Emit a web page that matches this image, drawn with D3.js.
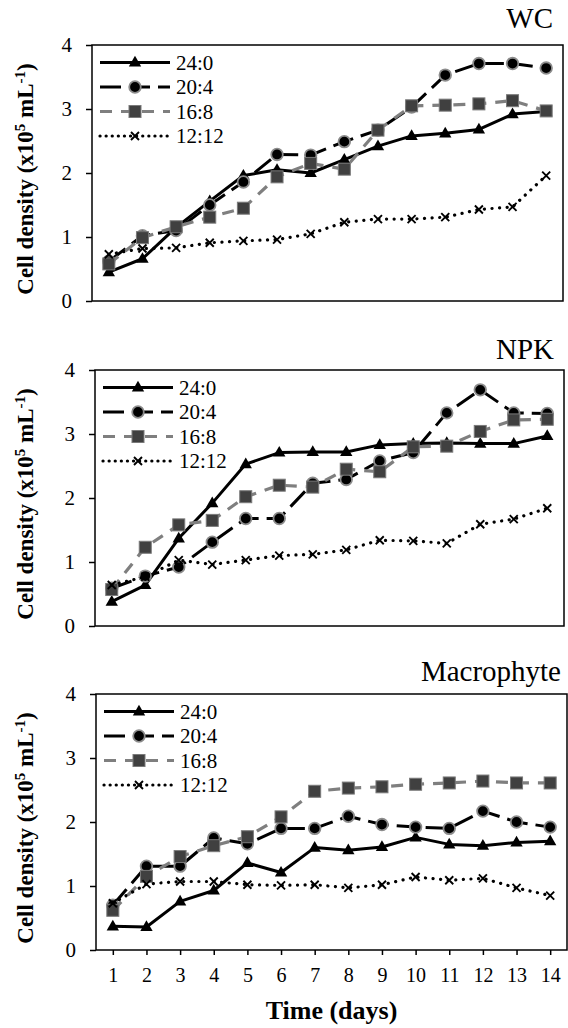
<!DOCTYPE html>
<html>
<head>
<meta charset="utf-8">
<script src="https://cdn.jsdelivr.net/npm/d3@7"></script>
<style>
  html, body { margin: 0; padding: 0; background: #fff; }
  svg { display: block; }
  text { font-family: "Liberation Serif", "Times New Roman", serif; fill: #000; }
</style>
</head>
<body>
<svg id="chart" width="568" height="1028" font-family="Liberation Serif, serif"></svg>
<script>
// ---------- DATA ----------
const days = [1, 2, 3, 4, 5, 6, 7, 8, 9, 10, 11, 12, 13, 14];
const seriesNames = ["24:0", "20:4", "16:8", "12:12"];
const panelTitles = ["WC", "NPK", "Macrophyte"];
const yTicks = [0, 1, 2, 3, 4];
const yTitle = "Cell density (x10";
const xTitle = "Time (days)";

// WC
const wc_24_0  = [0.45, 0.66, 1.15, 1.56, 1.96, 2.05, 2.00, 2.21, 2.42, 2.58, 2.62, 2.68, 2.92, 2.96];
const wc_20_4  = [0.62, 1.02, 1.10, 1.50, 1.86, 2.29, 2.28, 2.49, 2.67, 3.03, 3.53, 3.71, 3.71, 3.64];
const wc_16_8  = [0.58, 0.99, 1.16, 1.31, 1.45, 1.94, 2.15, 2.06, 2.67, 3.05, 3.06, 3.08, 3.13, 2.97];
const wc_12_12 = [0.73, 0.82, 0.83, 0.91, 0.94, 0.96, 1.05, 1.23, 1.28, 1.28, 1.31, 1.43, 1.47, 1.96];

// NPK
const npk_24_0  = [0.38, 0.64, 1.37, 1.92, 2.53, 2.71, 2.72, 2.72, 2.83, 2.85, 2.86, 2.85, 2.85, 2.97];
const npk_20_4  = [0.59, 0.78, 0.92, 1.31, 1.68, 1.68, 2.23, 2.29, 2.58, 2.71, 3.33, 3.69, 3.33, 3.32];
const npk_16_8  = [0.57, 1.23, 1.58, 1.65, 2.02, 2.20, 2.17, 2.45, 2.41, 2.80, 2.81, 3.04, 3.22, 3.23];
const npk_12_12 = [0.64, 0.77, 1.03, 0.96, 1.03, 1.10, 1.12, 1.19, 1.34, 1.33, 1.29, 1.59, 1.67, 1.84];

// Macrophyte
const mac_24_0  = [0.37, 0.36, 0.76, 0.93, 1.36, 1.21, 1.60, 1.56, 1.61, 1.76, 1.65, 1.63, 1.68, 1.70];
const mac_20_4  = [0.70, 1.31, 1.31, 1.75, 1.66, 1.90, 1.90, 2.09, 1.96, 1.92, 1.90, 2.17, 2.00, 1.92];
const mac_16_8  = [0.62, 1.15, 1.46, 1.63, 1.77, 2.08, 2.48, 2.53, 2.55, 2.59, 2.61, 2.64, 2.61, 2.61];
const mac_12_12 = [0.73, 1.03, 1.07, 1.07, 1.02, 1.01, 1.02, 0.97, 1.02, 1.14, 1.09, 1.12, 0.97, 0.85];

const panelData = [
  [wc_24_0, wc_20_4, wc_16_8, wc_12_12],
  [npk_24_0, npk_20_4, npk_16_8, npk_12_12],
  [mac_24_0, mac_20_4, mac_16_8, mac_12_12]
];

// ---------- LAYOUT / STYLE ----------
const panels = [
  { left: 92, top: 45,  right: 563, bottom: 301, titleX: 553, titleY: 28,  xAxis: false },
  { left: 95, top: 370, right: 564, bottom: 626, titleX: 554, titleY: 359, xAxis: false },
  { left: 96, top: 694, right: 567, bottom: 950, titleX: 561, titleY: 681, xAxis: true }
];

const styles = [
  { stroke: "#000", width: 3, dash: null,        cap: "butt",  marker: "triangle" },
  { stroke: "#000", width: 3, dash: "21,8",      cap: "butt",  marker: "circle" },
  { stroke: "#7f7f7f", width: 3.2, dash: "12,9", cap: "butt",  marker: "square" },
  { stroke: "#000", width: 3.2, dash: "0.1,7.5", cap: "round", marker: "x" }
];

const svg = d3.select("#chart");

function drawMarker(g, type, cx, cy) {
  if (type === "triangle") {
    g.append("path")
      .attr("d", d3.symbol(d3.symbolTriangle, 66)())
      .attr("transform", `translate(${cx},${cy + 0.5})`)
      .attr("fill", "#000");
  } else if (type === "circle") {
    g.append("circle").attr("cx", cx).attr("cy", cy).attr("r", 5.8)
      .attr("fill", "#000").attr("stroke", "#8c8c8c").attr("stroke-width", 1.8);
  } else if (type === "square") {
    g.append("rect").attr("x", cx - 6).attr("y", cy - 6).attr("width", 12).attr("height", 12)
      .attr("fill", "#404040").attr("stroke", "#7a7a7a").attr("stroke-width", 1);
  } else if (type === "x") {
    const s = 4;
    g.append("path")
      .attr("d", `M${cx - s},${cy - s}L${cx + s},${cy + s}M${cx - s},${cy + s}L${cx + s},${cy - s}`)
      .attr("stroke", "#000").attr("stroke-width", 1.9).attr("fill", "none");
  }
}

panels.forEach((p, pi) => {
  const g = svg.append("g");
  const x = d3.scalePoint().domain(days).range([p.left, p.right]).padding(0.5);
  const y = d3.scaleLinear().domain([0, 4]).range([p.bottom, p.top]);

  // y axis
  const yAx = g.append("g").attr("transform", `translate(${p.left},0)`)
    .call(d3.axisLeft(y).tickValues(yTicks).tickSize(6).tickPadding(14).tickFormat(d3.format("d")));
  yAx.attr("font-family", null).attr("font-size", null);
  yAx.select(".domain").remove();
  yAx.selectAll("line").attr("stroke", "#000").attr("stroke-width", 1.5);
  yAx.selectAll("text").style("font-family", "'Liberation Serif', serif").style("font-size", "21px").attr("fill", "#000");

  if (p.xAxis) {
    const xAx = g.append("g").attr("transform", `translate(0,${p.bottom})`)
      .call(d3.axisBottom(x).tickSize(5).tickPadding(13));
    xAx.attr("font-family", null).attr("font-size", null);
    xAx.select(".domain").remove();
    xAx.selectAll("line").attr("stroke", "#000").attr("stroke-width", 1.5);
    xAx.selectAll("text").style("font-family", "'Liberation Serif', serif").style("font-size", "20px").attr("fill", "#000");
  }

  // frame
  g.append("rect").attr("x", p.left).attr("y", p.top)
    .attr("width", p.right - p.left).attr("height", p.bottom - p.top)
    .attr("fill", "none").attr("stroke", "#000").attr("stroke-width", 1.5);

  // title
  g.append("text").attr("x", p.titleX).attr("y", p.titleY)
    .attr("text-anchor", "end").style("font-size", "29px").text(panelTitles[pi]);

  // y title
  const cy = (p.top + p.bottom) / 2 + 6;
  const yt = g.append("text")
    .attr("transform", `translate(33,${cy}) rotate(-90)`)
    .attr("text-anchor", "middle")
    .style("font-size", "23px").style("font-weight", "bold");
  yt.append("tspan").text(yTitle);
  yt.append("tspan").attr("dy", -8).style("font-size", "15px").text("5");
  yt.append("tspan").attr("dy", 8).text(" mL");
  yt.append("tspan").attr("dy", -8).style("font-size", "15px").text("-1");
  yt.append("tspan").attr("dy", 8).text(")");

  // series
  const line = d3.line().x((d, i) => x(days[i])).y(d => y(d));
  panelData[pi].forEach((vals, si) => {
    const st = styles[si];
    const sg = g.append("g");
    sg.append("path").datum(vals).attr("d", line)
      .attr("fill", "none").attr("stroke", st.stroke).attr("stroke-width", st.width)
      .attr("stroke-dasharray", st.dash).attr("stroke-linecap", st.cap)
      .attr("stroke-linejoin", "round");
    vals.forEach((v, i) => drawMarker(sg, st.marker, x(days[i]), y(v)));
  });

  // legend
  const lg = g.append("g");
  const rowY = [17.5, 42, 66.5, 91];
  seriesNames.forEach((name, si) => {
    const st = styles[si];
    const ly = p.top + rowY[si];
    const x0 = p.left + 8, x1 = p.left + 78;
    lg.append("line").attr("x1", x0).attr("x2", x1).attr("y1", ly).attr("y2", ly)
      .attr("stroke", st.stroke).attr("stroke-width", st.width)
      .attr("stroke-dasharray", st.dash === "0.1,7.5" ? "0.1,6" : st.dash).attr("stroke-linecap", st.cap);
    drawMarker(lg, st.marker, (x0 + x1) / 2, ly);
    lg.append("text").attr("x", p.left + 84).attr("y", ly).attr("dy", "0.35em")
      .style("font-size", "21px").text(name);
  });
});

// x title
const p3 = panels[2];
svg.append("text").attr("x", (p3.left + p3.right) / 2).attr("y", 1019)
  .attr("text-anchor", "middle").style("font-size", "26px").style("font-weight", "bold")
  .text(xTitle);
</script>
</body>
</html>
